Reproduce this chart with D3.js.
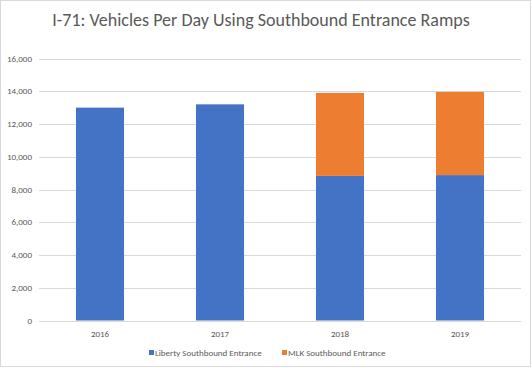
<!DOCTYPE html>
<html>
<head>
<meta charset="utf-8">
<script src="https://cdn.jsdelivr.net/npm/d3@7"></script>
<style>
  body { margin: 0; background: #fff; }
  text { font-family: Carlito, "Open Sans", "Liberation Sans", sans-serif; fill: #595959; }
</style>
</head>
<body>
<div id="graph"></div>
<script>
var years = ["2016", "2017", "2018", "2019"];
var liberty = [13000, 13200, 8830, 8880];
var mlk = [0, 0, 5070, 5080];
var seriesNames = ["Liberty Southbound Entrance", "MLK Southbound Entrance"];
var colors = ["#4472c4", "#ed7d31"];
var yTicks = [0, 2000, 4000, 6000, 8000, 10000, 12000, 14000, 16000];

var width = 532, height = 368;
var margin = { top: 58.5, right: 12, bottom: 47.5, left: 40 };

var svg = d3.select("#graph").append("svg")
  .attr("width", width)
  .attr("height", height);

// chart border
svg.append("rect")
  .attr("x", 0.5).attr("y", 0.5)
  .attr("width", width - 2).attr("height", height - 2)
  .attr("fill", "#fff")
  .attr("stroke", "#d9d9d9");

var x = d3.scaleBand()
  .domain(years)
  .range([margin.left, width - margin.right])
  .paddingInner(0.6)
  .paddingOuter(0.3);

var y = d3.scaleLinear()
  .domain([0, 16000])
  .range([height - margin.bottom, margin.top]);

// gridlines
svg.append("g")
  .selectAll("line")
  .data(yTicks)
  .enter().append("line")
  .attr("x1", margin.left - 1)
  .attr("x2", width - margin.right + 1)
  .attr("y1", function(d) { return Math.round(y(d)) + 0.5; })
  .attr("y2", function(d) { return Math.round(y(d)) + 0.5; })
  .attr("stroke", "#d9d9d9")
  .attr("stroke-width", 1);

// y labels
svg.append("g")
  .selectAll("text")
  .data(yTicks)
  .enter().append("text")
  .attr("x", margin.left - 8)
  .attr("y", function(d) { return y(d); })
  .attr("dy", "0.35em")
  .attr("text-anchor", "end")
  .style("font-size", "9px")
  .text(d3.format(","));

// stacked bars
var rows = years.map(function(yr, i) {
  return { year: yr, liberty: liberty[i], mlk: mlk[i] };
});
var stack = d3.stack().keys(["liberty", "mlk"])(rows);

svg.append("g")
  .selectAll("g")
  .data(stack)
  .enter().append("g")
  .attr("fill", function(d, i) { return colors[i]; })
  .selectAll("rect")
  .data(function(d) { return d; })
  .enter().append("rect")
  .attr("x", function(d) { return x(d.data.year); })
  .attr("width", x.bandwidth())
  .attr("y", function(d) { return y(d[1]); })
  .attr("height", function(d) { return y(d[0]) - y(d[1]); });

// x labels
svg.append("g")
  .selectAll("text")
  .data(years)
  .enter().append("text")
  .attr("x", function(d) { return x(d) + x.bandwidth() / 2; })
  .attr("y", height - margin.bottom + 13)
  .attr("dy", "0.35em")
  .attr("text-anchor", "middle")
  .style("font-size", "9px")
  .text(function(d) { return d; });

// title
svg.append("text")
  .attr("x", width / 2 - 5)
  .attr("y", 26)
  .attr("text-anchor", "middle")
  .style("font-size", "18px")
  .text("I-71: Vehicles Per Day Using Southbound Entrance Ramps");

// legend
var legendX = [149, 282];
var legend = svg.append("g")
  .selectAll("g")
  .data(seriesNames)
  .enter().append("g")
  .attr("transform", function(d, i) { return "translate(" + legendX[i] + ",353)"; });

legend.append("rect")
  .attr("x", 0).attr("y", -3)
  .attr("width", 5).attr("height", 5)
  .attr("fill", function(d, i) { return colors[i]; });

legend.append("text")
  .attr("x", 6)
  .attr("y", 0)
  .attr("dy", "0.3em")
  .style("font-size", "9px")
  .text(function(d) { return d; });
</script>
</body>
</html>
